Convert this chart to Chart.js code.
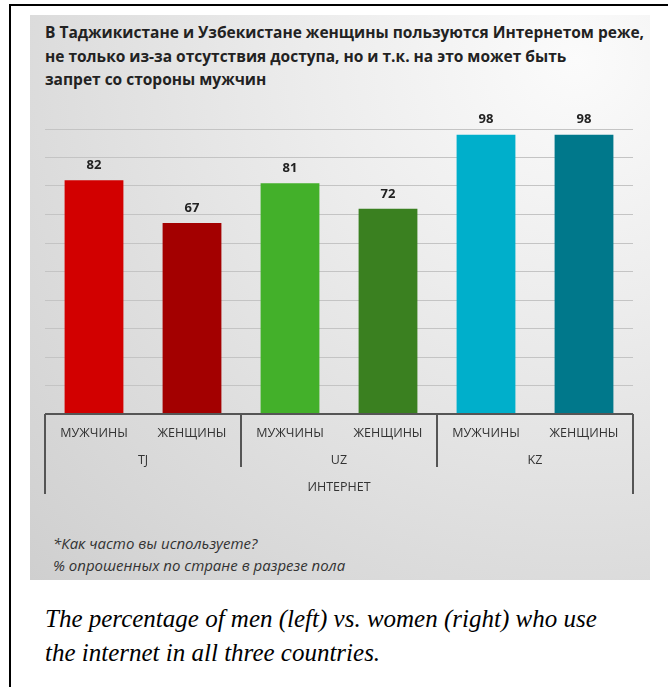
<!DOCTYPE html>
<html>
<head>
<meta charset="utf-8">
<script src="https://cdn.jsdelivr.net/npm/chart.js@4"></script>
<style>
  body { margin: 0; width: 668px; height: 687px; background: #fff; position: relative; overflow: hidden; }
  #frame { position: absolute; left: 9px; top: 4px; width: 700px; height: 700px; border-top: 2px solid #000; border-left: 2px solid #000; }
  #panel {
    position: absolute; left: 30px; top: 15px; width: 620px; height: 565px;
    background: radial-gradient(ellipse at 88% 8%, #fbfbfb 0%, #ececec 35%, #dcdcdc 70%, #cfcfcf 100%);
  }
  #title {
    position: absolute; left: 45px; top: 21px; width: 620px; white-space: nowrap;
    font-family: "Open Sans", sans-serif; font-weight: bold; font-size: 15.5px; line-height: 23.5px; color: #222;
  }
  #note {
    position: absolute; left: 53px; top: 532px; white-space: nowrap;
    font-family: "Open Sans", sans-serif; font-style: italic; font-size: 15px; line-height: 22px; color: #333;
  }
  #caption {
    position: absolute; left: 45px; top: 602px; width: 620px; white-space: nowrap;
    font-family: "Liberation Serif", serif; font-style: italic; font-size: 25px; line-height: 34px; color: #000;
  }
  #chart { position: absolute; left: 30px; top: 100px; }
</style>
</head>
<body>
<div id="frame"></div>
<div id="panel"></div>
<div id="title">В Таджикистане и Узбекистане женщины пользуются Интернетом реже,<br>не только из-за отсутствия доступа, но и т.к. на это может быть<br>запрет со стороны мужчин</div>
<canvas id="chart" width="620" height="410"></canvas>
<div id="note">*Как часто вы используете?<br>% опрошенных по стране в разрезе пола</div>
<div id="caption">The percentage of men (left) vs. women (right) who use<br>the internet in all three countries.</div>
<script>
var genders = ['МУЖЧИНЫ', 'ЖЕНЩИНЫ', 'МУЖЧИНЫ', 'ЖЕНЩИНЫ', 'МУЖЧИНЫ', 'ЖЕНЩИНЫ'];
var countries = ['TJ', 'UZ', 'KZ'];
var groupLabel = 'ИНТЕРНЕТ';
var values = [82, 67, 81, 72, 98, 98];
var barColors = ['#d20000', '#a30000', '#43b02a', '#3a8020', '#00afcb', '#00788b'];

// подписи значений над столбцами
var valueLabels = {
    id: 'valueLabels',
    afterDatasetsDraw: function (chart) {
        var ctx = chart.ctx;
        var meta = chart.getDatasetMeta(0);
        ctx.save();
        ctx.font = 'bold 13px "Open Sans", sans-serif';
        ctx.fillStyle = '#222';
        ctx.textAlign = 'center';
        ctx.textBaseline = 'middle';
        meta.data.forEach(function (bar, i) {
            ctx.fillText(values[i], bar.x, bar.y - 15);
        });
        ctx.restore();
    }
};

// многоуровневая ось X: пол / страна / ИНТЕРНЕТ
var groupAxis = {
    id: 'groupAxis',
    afterDraw: function (chart) {
        var ctx = chart.ctx;
        var x = chart.scales.x;
        var y = chart.scales.y;
        var base = y.getPixelForValue(0);
        var step = (x.right - x.left) / genders.length;
        ctx.save();
        ctx.strokeStyle = '#555';
        ctx.lineWidth = 2;
        ctx.beginPath();
        ctx.moveTo(x.left, base);
        ctx.lineTo(x.right, base);
        ctx.moveTo(x.left, base);
        ctx.lineTo(x.left, base + 80);
        ctx.moveTo(x.right, base);
        ctx.lineTo(x.right, base + 80);
        for (var g = 1; g < countries.length; g++) {
            var sx = x.left + g * 2 * step;
            ctx.moveTo(sx, base);
            ctx.lineTo(sx, base + 53);
        }
        ctx.stroke();

        ctx.fillStyle = '#333';
        ctx.textAlign = 'center';
        ctx.textBaseline = 'middle';
        ctx.font = '12.5px "Open Sans", sans-serif';
        genders.forEach(function (label, i) {
            ctx.fillText(label, x.getPixelForValue(i), base + 19);
        });
        countries.forEach(function (label, g) {
            ctx.fillText(label, x.left + (g * 2 + 1) * step, base + 46);
        });
        ctx.fillText(groupLabel, (x.left + x.right) / 2, base + 73);
        ctx.restore();
    }
};

var ctxChart = document.getElementById('chart').getContext('2d');
var chart = new Chart(ctxChart, {
    type: 'bar',
    data: {
        labels: genders,
        datasets: [{
            data: values,
            backgroundColor: barColors,
            categoryPercentage: 1,
            barPercentage: 0.6
        }]
    },
    options: {
        responsive: false,
        animation: false,
        layout: { padding: { left: 15, right: 17, top: 29, bottom: 96 } },
        plugins: {
            legend: { display: false },
            tooltip: { enabled: false }
        },
        scales: {
            x: { display: false },
            y: {
                min: 0,
                max: 100,
                ticks: { display: false, stepSize: 10 },
                border: { display: false },
                grid: { color: '#c4c4c4', lineWidth: 1, drawTicks: false }
            }
        }
    },
    plugins: [valueLabels, groupAxis]
});
</script>
</body>
</html>
